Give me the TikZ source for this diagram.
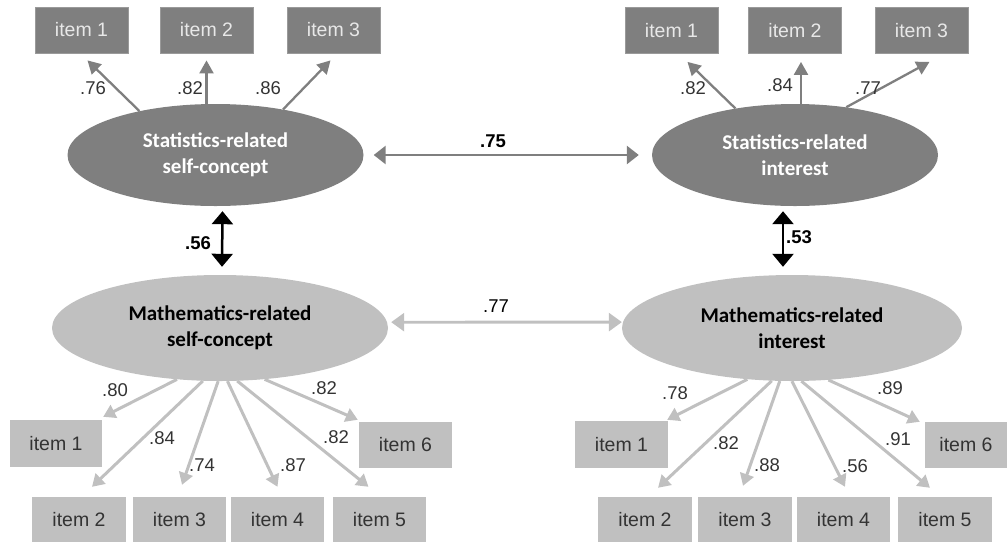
\documentclass[tikz,border=0pt]{standalone}
\usepackage{fontspec}
\setmainfont{Liberation Sans}
\newfontfamily\carlitofont{Carlito}
\usetikzlibrary{shapes.geometric,arrows.meta,calc}
\definecolor{dk}{HTML}{7F7F7F}
\definecolor{dkrim}{HTML}{9A9A9A}
\definecolor{lt}{HTML}{C0C0C0}
\definecolor{txt}{HTML}{333333}
\definecolor{itxt}{HTML}{E8E8E8}
\begin{document}
\begin{tikzpicture}[x=1pt,y=-1pt,
  itemdk/.style={rectangle, fill=dk, draw=dkrim, line width=0.8pt, minimum width=93pt, minimum height=46pt, inner sep=0pt, text=itxt, font=\fontsize{19.5}{21}\selectfont},
  itemlt/.style={rectangle, fill=lt, minimum width=93pt, minimum height=46pt, inner sep=0pt, text=txt, font=\fontsize{19.5}{21}\selectfont},
  latdk/.style={ellipse, fill=dk, inner sep=0pt, align=center, text=white, font=\carlitofont\bfseries\fontsize{21}{26}\selectfont},
  latlt/.style={ellipse, fill=lt, inner sep=0pt, align=center, text=black, font=\carlitofont\bfseries\fontsize{21}{26}\selectfont},
  loaddk/.style={draw=dk, line width=2.3pt, -{Triangle[length=13pt,width=14pt]}},
  loadlt/.style={draw=lt, line width=3pt, -{Triangle[length=12pt,width=14pt]}},
  corrdk/.style={draw=dk, line width=2.8pt, {Triangle[length=12pt,width=18pt]}-{Triangle[length=12pt,width=18pt]}},
  corrlt/.style={draw=lt, line width=2.8pt, {Triangle[length=13pt,width=18pt]}-{Triangle[length=13pt,width=18pt]}},
  corrbk/.style={draw=black, line width=2.5pt, {Triangle[length=13pt,width=21pt]}-{Triangle[length=13pt,width=21pt]}},
  num/.style={text=txt, font=\fontsize{18.5}{20}\selectfont, inner sep=0pt},
  bnum/.style={text=black, font=\bfseries\fontsize{18.5}{20}\selectfont, inner sep=0pt},
]
\useasboundingbox (0,0) rectangle (1007,542);

% top-left items
\node[itemdk] (t1) at (81.5,30) {item 1};
\node[itemdk] (t2) at (206.5,30) {item 2};
\node[itemdk] (t3) at (333.5,30) {item 3};
% top-right items
\node[itemdk] (r1) at (671.5,30.5) {item 1};
\node[itemdk] (r2) at (795,30.5) {item 2};
\node[itemdk] (r3) at (921.5,30.5) {item 3};

% latent variables
\node[latdk, minimum width=296pt, minimum height=102pt] (e1) at (215.5,155) {Statistics-related\\self-concept};
\node[latdk, minimum width=286pt, minimum height=102pt] (e2) at (795,155) {Statistics-related\\interest};
\node[latlt, minimum width=336pt, minimum height=106pt] (e3) at (220,328) {Mathematics-related\\self-concept};
\node[latlt, minimum width=340pt, minimum height=106pt] (e4) at (792,328) {Mathematics-related\\interest};

% bottom-left items
\node[itemlt, minimum width=92pt, minimum height=47pt] (b1) at (56,443.5) {item 1};
\node[itemlt, minimum height=46pt] (b6) at (405.5,445) {item 6};
\node[itemlt, minimum width=94pt, minimum height=45pt] (b2) at (79,519.5) {item 2};
\node[itemlt, minimum height=45pt] (b3) at (179.5,519.5) {item 3};
\node[itemlt, minimum height=45pt] (b4) at (277.5,519.5) {item 4};
\node[itemlt, minimum height=45pt] (b5) at (379.5,519.5) {item 5};
% bottom-right items
\node[itemlt, minimum height=47pt] (c1) at (621.5,444.5) {item 1};
\node[itemlt, minimum width=82pt, minimum height=46pt] (c6) at (966,445) {item 6};
\node[itemlt, minimum width=94pt, minimum height=45pt] (c2) at (645,519.5) {item 2};
\node[itemlt, minimum width=94pt, minimum height=45pt] (c3) at (745,519.5) {item 3};
\node[itemlt, minimum height=45pt] (c4) at (843.5,519.5) {item 4};
\node[itemlt, minimum width=94pt, minimum height=45pt] (c5) at (945,519.5) {item 5};

% top loadings
\draw[loaddk] (e1.150) -- ($(t1.south)+(6,7)$);
\draw[loaddk] (t2.south |- e1.north) -- ($(t2.south)+(0,7)$);
\draw[loaddk] (e1.34) -- ($(t3.south)+(-3,7)$);
\draw[loaddk] (e2.142) -- ($(r1.south)+(16,8)$);
\draw[loaddk] ($(e2.north)+(6,0)$) -- ($(r2.south)+(6,8)$);
\draw[loaddk] (e2.43) -- ($(r3.south)+(8,8)$);

% bottom-left loadings
\draw[loadlt] (e3.-130) -- ($(b1.north east)+(1,-3)$);
\draw[loadlt] (e3.-108) -- ($(b2.north)+(13,-10)$);
\draw[loadlt] (e3.-92) -- ($(b3.north)+(2.5,-12)$);
\draw[loadlt] (e3.-82) -- ($(b4.north)+(0,-10)$);
\draw[loadlt] (e3.-72) -- ($(b5.north)+(-11,-10)$);
\draw[loadlt] (e3.-49) -- ($(b6.north west)+(-1,-2)$);
% bottom-right loadings
\draw[loadlt] (e4.-131) -- ($(c1.north east)+(-1,-1)$);
\draw[loadlt] (e4.-111) -- ($(c2.north)+(13,-9)$);
\draw[loadlt] (e4.-103) -- ($(c3.north)+(-2,-11)$);
\draw[loadlt] (e4.-90) -- ($(c4.north)+(1.5,-10)$);
\draw[loadlt] (e4.-80) -- ($(c5.north)+(-15,-9)$);
\draw[loadlt] (e4.-55) -- ($(c6.north west)+(-5,0)$);

% correlations
\draw[corrdk, shorten <=10pt, shorten >=13pt] (e1.east) -- (e2.west);
\draw[corrlt, shorten <=4pt, shorten >=1pt] (e3.2) -- (e4.178);
\draw[corrbk] ($(e1.south)+(7,5)$) -- ($(e3.north)+(2,-8)$);
\draw[corrbk] ($(e2.south)+(-12,5)$) -- ($(e4.north)+(-9,-8)$);

% labels
\node[num] (n1) at (93,88) {.76};
\node[num] (n2) at (190,88) {.82};
\node[num] (n3) at (268,88) {.86};
\node[num] (n4) at (693,88) {.82};
\node[num] (n5) at (780,85) {.84};
\node[num] (n6) at (868,88) {.77};
\node[bnum] (n7) at (493,141) {.75};
\node[num, text=black] (n8) at (496,306) {.77};
\node[bnum] (n9) at (198,243) {.56};
\node[bnum] (n10) at (799,237) {.53};
\node[num] (n11) at (115,390) {.80};
\node[num] (n12) at (162,438) {.84};
\node[num] (n13) at (202,465) {.74};
\node[num] (n14) at (293,465) {.87};
\node[num] (n15) at (324,388) {.82};
\node[num] (n16) at (336,437) {.82};
\node[num] (n17) at (675,393) {.78};
\node[num] (n18) at (726,443) {.82};
\node[num] (n19) at (767,465) {.88};
\node[num] (n20) at (855,466) {.56};
\node[num] (n21) at (898,439) {.91};
\node[num] (n22) at (890,388) {.89};
\end{tikzpicture}
\end{document}
